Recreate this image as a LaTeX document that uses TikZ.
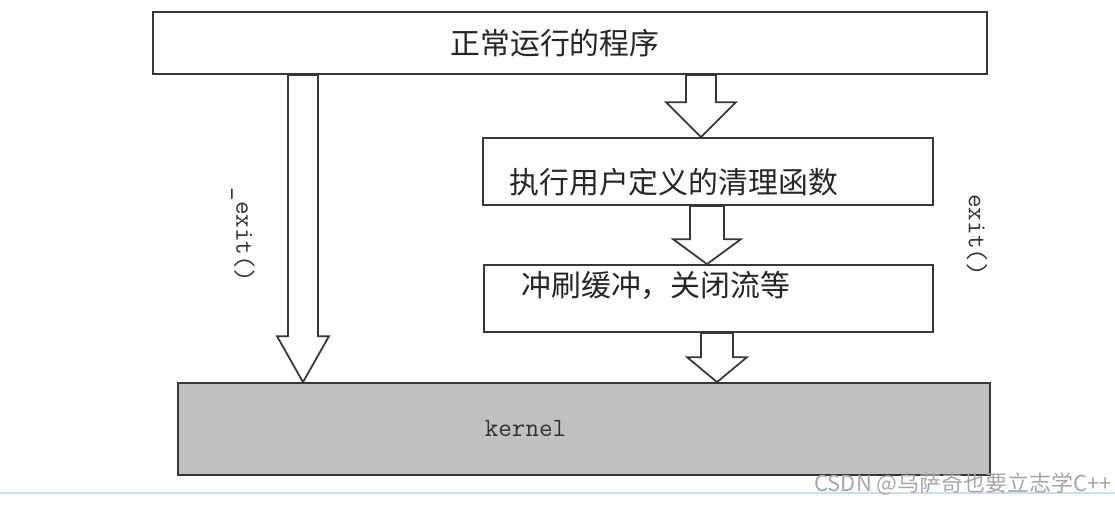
\documentclass[tikz,border=0pt]{standalone}
\usepackage{fontspec}
\newfontfamily\cjk{Noto Sans CJK SC}
\usetikzlibrary{calc, positioning}
\definecolor{kernelgray}{RGB}{192,192,192}
\definecolor{framegray}{RGB}{55,55,55}
\definecolor{uiblue}{RGB}{205,222,240}

% hollow block arrow: start, tip, shaft half width, head half width, head length
\newcommand{\hollowarrow}[5]{%
  \draw [fat] ($(#1)+(-#3,0)$) -- ($(#2)+(-#3,-#5)$) -- ($(#2)+(-#4,-#5)$)
    -- (#2) -- ($(#2)+(#4,-#5)$) -- ($(#2)+(#3,-#5)$) -- ($(#1)+(#3,0)$) -- cycle;}

\begin{document}
\begin{tikzpicture}[x=0.02cm, y=-0.02cm]
    \tikzstyle{box} = [rectangle, draw=framegray, line width=1pt, fill=white, inner sep=0pt]
    \tikzstyle{fat} = [draw=framegray, line width=1pt, fill=white, line join=miter]
    \tikzstyle{zh} = [font=\cjk\fontsize{17}{20}\selectfont, text=black!85, inner sep=0pt]
    \tikzstyle{code} = [font=\ttfamily\fontsize{15}{18}\selectfont, text=black!80, inner sep=0pt]

    \useasboundingbox (0,0) rectangle (1115,504);

    \node [box, minimum width=16.68cm, minimum height=1.24cm] (prog) at (570,43) {};
    \node [zh, xshift=-0.3cm] (progtxt) at (prog.center) {正常运行的程序};
    %
    \node [box, minimum width=9cm, minimum height=1.34cm] (clean) at (708,171.5) {};
    \node [zh, right=0.54cm of clean.west, yshift=-0.21cm] (cleantxt) {执行用户定义的清理函数};
    %
    \node [box, minimum width=8.98cm, minimum height=1.34cm] (flush) at (708.5,298.5) {};
    \node [zh, right=0.76cm of flush.west, yshift=0.27cm] (flushtxt) {冲刷缓冲，关闭流等};
    %
    \node [box, fill=kernelgray, minimum width=16.24cm, minimum height=1.84cm] (kernel) at (584,429) {};
    \node [code, xshift=-1.17cm] (kerneltxt) at (kernel.center) {kernel};
    %
    \path (prog.south) ++(-267,0) coordinate (s0);
    \coordinate (t0) at (s0 |- kernel.north);
    \hollowarrow{s0}{t0}{15}{26}{46}
    \path (prog.south) ++(131,0) coordinate (s1);
    \coordinate (t1) at (s1 |- clean.north);
    \hollowarrow{s1}{t1}{15}{35}{35}
    \path (clean.south) ++(-1,0) coordinate (s2);
    \coordinate (t2) at (s2 |- flush.north);
    \hollowarrow{s2}{t2}{17}{34}{25}
    \path (flush.south) ++(8.5,0) coordinate (s3);
    \coordinate (t3) at (s3 |- kernel.north);
    \hollowarrow{s3}{t3}{16}{30}{25}
    %
    \node [code, rotate=-90] (quick) at (243,235) {\_exit()};
    \node [code, rotate=-90] (normal) at (977,235) {exit()};
    %
    \draw [uiblue, line width=0.8pt] (0,493) -- (1115,493);
    \node [font=\cjk\fontsize{12.5}{14}\selectfont, text=black!35, anchor=east, inner sep=0pt] (mark) at (1112,484) {CSDN @乌萨奇也要立志学C++};
\end{tikzpicture}
\end{document}
